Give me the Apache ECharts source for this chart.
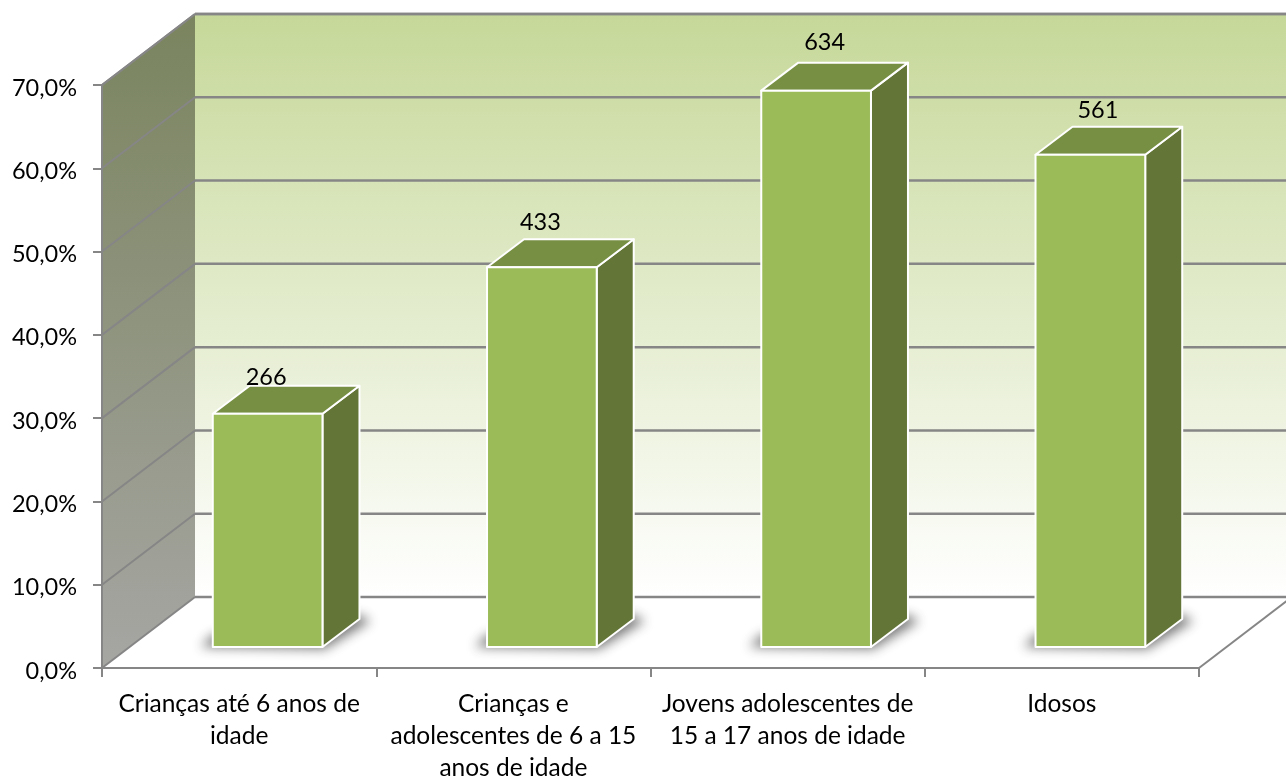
<!DOCTYPE html>
<html>
<head>
<meta charset="utf-8">
<style>html,body{margin:0;padding:0;background:#fff}#c{width:1286px;height:776px}</style>
<script src="https://cdn.jsdelivr.net/npm/echarts@6/dist/echarts.min.js"></script>
</head>
<body>
<div id="c"></div>
<script>
var categories = ['Crianças até 6 anos de\nidade', 'Crianças e\nadolescentes de 6 a 15\nanos de idade', 'Jovens adolescentes de\n15 a 17 anos de idade', 'Idosos'];
var percentValues = [28.0, 45.6, 66.8, 59.1];
var countLabels = ['266', '433', '634', '561'];
var yTicks = [0, 10, 20, 30, 40, 50, 60, 70];

// 3D projection layout, in pixels
var WALL_DX = 93, WALL_DY = -71;
var BAR_SHIFT_X = 28.5, BAR_SHIFT_Y = -21;
var BAR_DEPTH_X = 37, BAR_DEPTH_Y = -28;
var BAR_WIDTH_RATIO = 0.4;
var LABEL_ADJUST = [[-1.5, -36], [-1.5, -45], [8.5, -48], [7.5, -44]];
var SHADOW_OFFSET = 3000;
var LINE = '#868686';

function wallsItem(params, api) {
  var cs = params.coordSys;
  var L = cs.x, R = cs.x + cs.width, T = cs.y, B = cs.y + cs.height;
  return { type: 'group', children: [
    { type: 'polygon', shape: { points: [[L + WALL_DX, T + WALL_DY], [R + WALL_DX, T + WALL_DY], [R + WALL_DX, B + WALL_DY], [L + WALL_DX, B + WALL_DY]] },
      style: { fill: { type: 'linear', x: 0, y: 0, x2: 0, y2: 1, colorStops: [{ offset: 0, color: '#c6d899' }, { offset: 1, color: '#ffffff' }] } } },
    { type: 'polygon', shape: { points: [[L, T], [L + WALL_DX, T + WALL_DY], [L + WALL_DX, B + WALL_DY], [L, B]] },
      style: { fill: { type: 'linear', x: 0, y: 0, x2: 0, y2: 1, colorStops: [{ offset: 0, color: '#7a845e' }, { offset: 1, color: '#a6a6a3' }] } } },
    { type: 'line', shape: { x1: L + WALL_DX, y1: T + WALL_DY, x2: R + WALL_DX, y2: T + WALL_DY }, style: { stroke: LINE, lineWidth: 2.5 } },
    { type: 'line', shape: { x1: L, y1: T, x2: L + WALL_DX, y2: T + WALL_DY }, style: { stroke: LINE, lineWidth: 2 } },
    { type: 'line', shape: { x1: L, y1: B, x2: L + WALL_DX, y2: B + WALL_DY }, style: { stroke: LINE, lineWidth: 2 } },
    { type: 'line', shape: { x1: R, y1: B, x2: R + WALL_DX, y2: B + WALL_DY }, style: { stroke: LINE, lineWidth: 2 } },
    { type: 'line', shape: { x1: L + WALL_DX, y1: B + WALL_DY, x2: R + WALL_DX, y2: B + WALL_DY }, style: { stroke: LINE, lineWidth: 2.5 } }
  ] };
}

function gridItem(params, api) {
  var cs = params.coordSys;
  var y = api.coord([0, api.value(1)])[1];
  var L = cs.x, R = cs.x + cs.width;
  return { type: 'group', children: [
    { type: 'line', shape: { x1: L + WALL_DX, y1: y + WALL_DY, x2: R + WALL_DX, y2: y + WALL_DY }, style: { stroke: LINE, lineWidth: 2.5 } },
    { type: 'line', shape: { x1: L, y1: y, x2: L + WALL_DX, y2: y + WALL_DY }, style: { stroke: LINE, lineWidth: 2 } }
  ] };
}

function barItem(params, api) {
  var idx = api.value(0);
  var band = api.size([1, 0])[0];
  var w = band * BAR_WIDTH_RATIO;
  var base = api.coord([idx, 0]);
  var top = api.coord([idx, api.value(1)]);
  var x0 = base[0] - w / 2 + BAR_SHIFT_X;
  var x1 = x0 + w;
  var yb = base[1] + BAR_SHIFT_Y;
  var yt = top[1] + BAR_SHIFT_Y;
  var dx = BAR_DEPTH_X, dy = BAR_DEPTH_Y;
  var adj = LABEL_ADJUST[idx];
  var border = { stroke: '#ffffff', lineWidth: 2, lineJoin: 'round' };
  var so = SHADOW_OFFSET;
  return { type: 'group', children: [
    { type: 'polygon', shape: { points: [[x0 - 12 - so, yb], [x1 + 2 - so, yb + 2], [x1 + dx + 11 - so, yb + dy + 2], [x1 + dx - so, yb + dy - 4], [x0 - so, yb - 12]] },
      style: { fill: '#888', shadowColor: 'rgba(105,105,105,0.9)', shadowBlur: 12, shadowOffsetX: so } },
    { type: 'polygon', shape: { points: [[x1, yt], [x1 + dx, yt + dy], [x1 + dx, yb + dy], [x1, yb]] },
      style: Object.assign({ fill: '#647637' }, border) },
    { type: 'polygon', shape: { points: [[x0, yt], [x0 + dx, yt + dy], [x1 + dx, yt + dy], [x1, yt]] },
      style: Object.assign({ fill: '#778f43' }, border) },
    { type: 'rect', shape: { x: x0, y: yt, width: w, height: yb - yt },
      style: Object.assign({ fill: '#9bbb59' }, border) },
    { type: 'text', x: (x0 + x1) / 2 + adj[0], y: top[1] + BAR_SHIFT_Y + adj[1],
      style: { text: countLabels[idx], fill: '#000', font: '23.5px Lato, "Open Sans", sans-serif', align: 'center', verticalAlign: 'middle' } }
  ] };
}

var chart = echarts.init(document.getElementById('c'), null, { renderer: 'canvas' });
chart.setOption({
  animation: false,
  backgroundColor: '#ffffff',
  grid: { left: 102, top: 85, width: 1097, height: 583, containLabel: false, outerBoundsMode: 'none' },
  xAxis: {
    type: 'category', data: categories, boundaryGap: true, z: 5,
    axisLine: { show: true, lineStyle: { color: LINE, width: 2 } },
    axisTick: { show: true, length: 9, alignWithLabel: false, lineStyle: { color: LINE, width: 2 } },
    axisLabel: { color: '#000', fontFamily: 'Lato', fontSize: 24.5, lineHeight: 32, margin: 20, interval: 0, align: 'center', hideOverlap: false },
    splitLine: { show: false }
  },
  yAxis: {
    type: 'value', min: 0, max: 70, interval: 10, z: 5,
    axisLine: { show: true, lineStyle: { color: LINE, width: 2 } },
    axisTick: { show: true, length: 9, lineStyle: { color: LINE, width: 2 } },
    axisLabel: { color: '#000', fontFamily: 'Lato', fontSize: 23.5, margin: 25, verticalAlign: 'top', lineHeight: 6, formatter: function (v) { return v.toFixed(1).replace('.', ',') + '%'; } },
    splitLine: { show: false }
  },
  series: [
    { type: 'custom', z: 1, silent: true, renderItem: wallsItem, data: [[0, 0]], encode: { x: 0, y: 1 } },
    { type: 'custom', z: 2, silent: true, renderItem: gridItem, data: yTicks.slice(1).map(function (t) { return [0, t]; }), encode: { x: 0, y: 1 } },
    { type: 'custom', z: 3, silent: true, renderItem: barItem, data: percentValues.map(function (v, i) { return [i, v]; }), encode: { x: 0, y: 1 } }
  ]
});
</script>
</body>
</html>
